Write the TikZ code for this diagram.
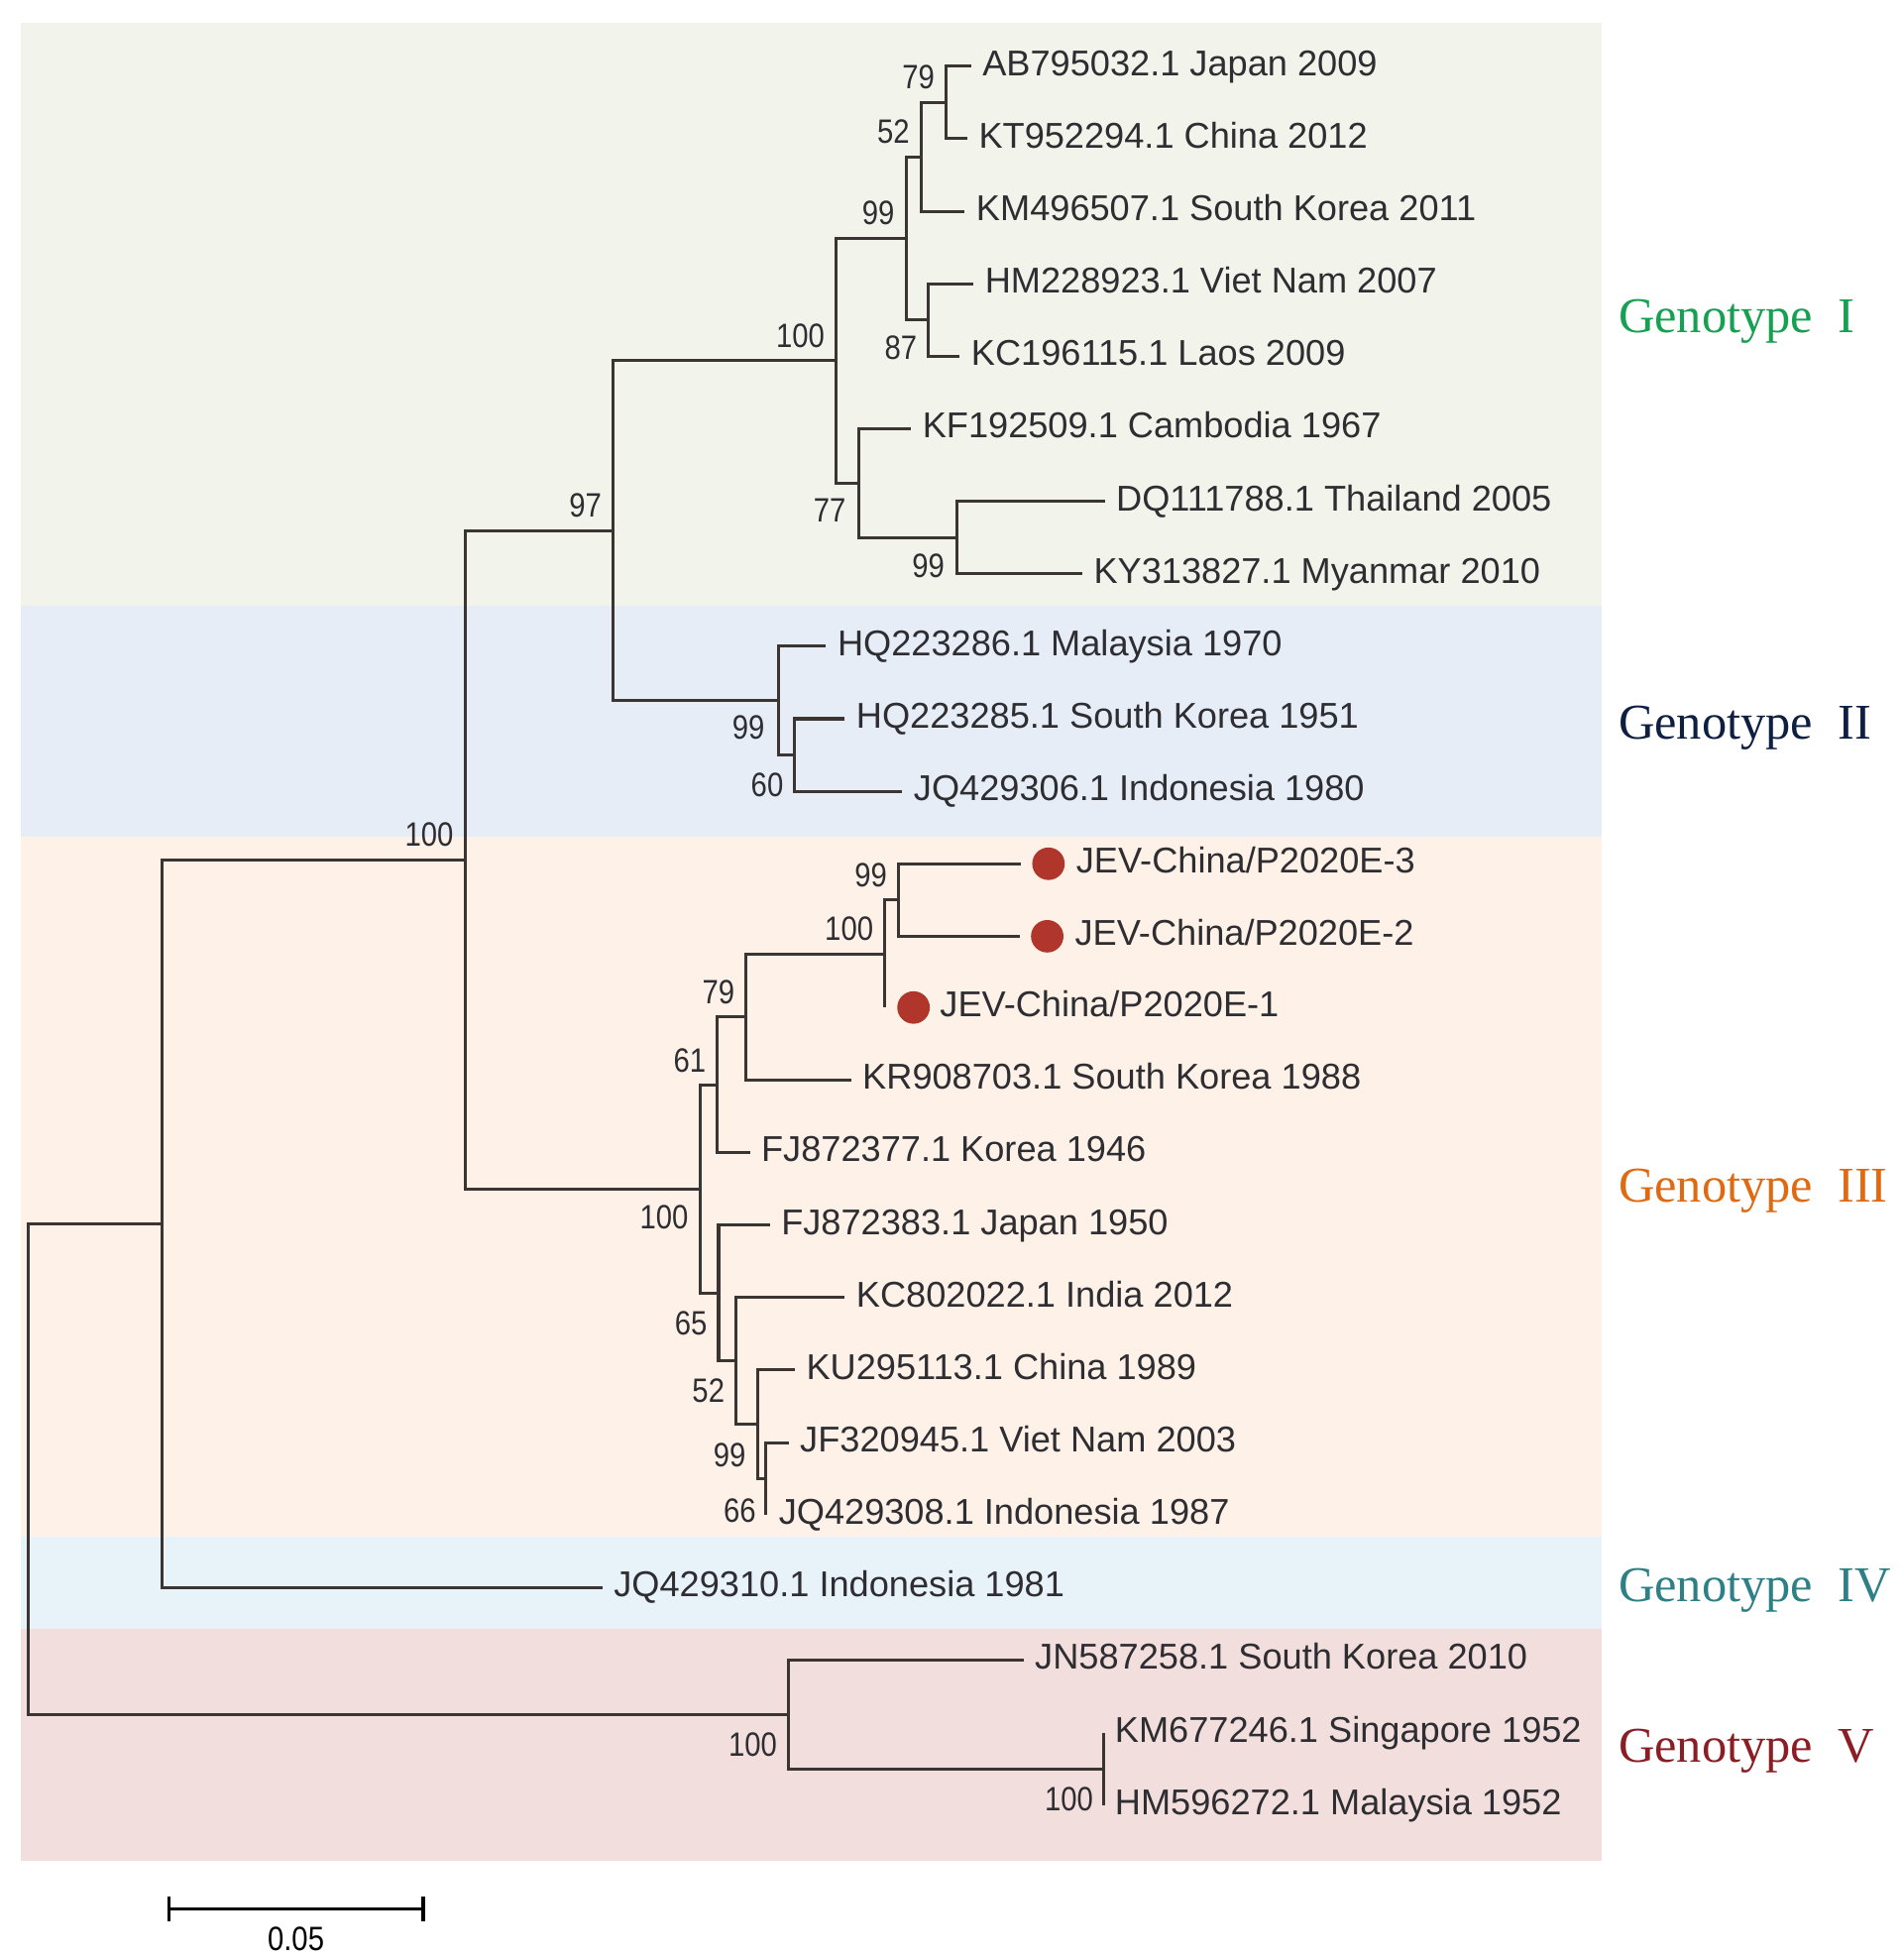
\documentclass[tikz,border=0pt]{standalone}
\usepackage{graphicx}
\usepackage{fontspec}
\setmainfont{Liberation Sans}
\newfontfamily\gserif{Liberation Serif}
\definecolor{linec}{RGB}{58,53,50}
\definecolor{textc}{RGB}{45,45,50}
\definecolor{bandI}{RGB}{242,244,235}
\definecolor{bandII}{RGB}{230,237,246}
\definecolor{bandIII}{RGB}{254,241,232}
\definecolor{bandIV}{RGB}{232,243,249}
\definecolor{bandV}{RGB}{242,222,221}
\definecolor{gI}{RGB}{22,160,82}
\definecolor{gII}{RGB}{14,31,66}
\definecolor{gIII}{RGB}{224,106,18}
\definecolor{gIV}{RGB}{44,128,134}
\definecolor{gV}{RGB}{139,30,36}
\definecolor{dotc}{RGB}{176,54,43}
\newcommand{\nrw}[1]{\scalebox{0.86}[1]{#1}}
\tikzset{
  br/.style={draw=linec, line width=2.4pt, line join=miter},
  leaf/.style={anchor=base west, inner sep=0pt, text=textc, font=\fontsize{28.7}{34}\selectfont},
  supA/.style={anchor=base east, inner sep=0pt, text=textc, font=\fontsize{27}{32}\selectfont},
  supB/.style={anchor=north east, inner sep=0pt, text=textc, font=\fontsize{27}{32}\selectfont},
  geno/.style={anchor=base west, inner sep=0pt, font=\gserif\fontsize{40}{48}\selectfont},
  reddot/.style={circle, fill=dotc, inner sep=0pt, minimum size=26pt},
}
\begin{document}
\begin{tikzpicture}[x=1pt, y=-1pt]
\useasboundingbox (0,0) rectangle (1522,1568);
\fill[white] (0,0) rectangle (1522,1568);
% genotype bands
\fill[bandI]   (17,18)   rectangle (1282,484.5);
\fill[bandII]  (17,484.5) rectangle (1282,669);
\fill[bandIII] (17,669)  rectangle (1282,1229);
\fill[bandIV]  (17,1229) rectangle (1282,1303);
\fill[bandV]   (17,1303) rectangle (1282,1489);

% leaf tips
\coordinate (AB)  at (777,53);
\coordinate (KT)  at (774,111);
\coordinate (KM)  at (772,169);
\coordinate (HM)  at (779,227);
\coordinate (KC)  at (768,285);
\coordinate (KF)  at (729,343);
\coordinate (DQ)  at (884,401);
\coordinate (KY)  at (866,459);
\coordinate (HQa) at (661,517);
\coordinate (HQb) at (676,575);
\coordinate (JQa) at (722,633);
\coordinate (E3)  at (817,691);
\coordinate (E2)  at (816,749);
\coordinate (E1)  at (708,806);
\coordinate (KR)  at (681,864);
\coordinate (FJa) at (600,922);
\coordinate (FJb) at (616,980);
\coordinate (KCb) at (676,1038);
\coordinate (KU)  at (636,1096);
\coordinate (JF)  at (631,1154);
\coordinate (JQb) at (613,1212);
\coordinate (JQc) at (482,1270);
\coordinate (JN)  at (819,1328);
\coordinate (KMb) at (883,1386);
\coordinate (HMb) at (883,1444);

% internal nodes
\coordinate (n79)   at (757,82);
\coordinate (n52)   at (737,125.5);
\coordinate (n87)   at (743,256);
\coordinate (n99a)  at (725,190.75);
\coordinate (n99b)  at (766,430);
\coordinate (n77)   at (687,386.5);
\coordinate (n100a) at (669,288.6);
\coordinate (n60)   at (636,604);
\coordinate (n99c)  at (623,560.5);
\coordinate (n97)   at (490.5,424.6);
\coordinate (n99d)  at (719,720);
\coordinate (n100b) at (708,763);
\coordinate (n79b)  at (597,813.5);
\coordinate (n61)   at (574,867.8);
\coordinate (n66)   at (613,1183);
\coordinate (n99e)  at (606,1139.5);
\coordinate (n52b)  at (589,1088.8);
\coordinate (n65)   at (575,1034.4);
\coordinate (n100c) at (560,951.1);
\coordinate (n100)  at (372,687.9);
\coordinate (nIV)   at (130,978.9);
\coordinate (n100W) at (883,1415);
\coordinate (n100V) at (631,1371.5);
\coordinate (root)  at (22.5,1175.2);

% branches
\draw[br] (n79) |- (AB);   \draw[br] (n79) |- (KT);
\draw[br] (n52) |- (n79);  \draw[br] (n52) |- (KM);
\draw[br] (n87) |- (HM);   \draw[br] (n87) |- (KC);
\draw[br] (n99a) |- (n52); \draw[br] (n99a) |- (n87);
\draw[br] (n99b) |- (DQ);  \draw[br] (n99b) |- (KY);
\draw[br] (n77) |- (KF);   \draw[br] (n77) |- (n99b);
\draw[br] (n100a) |- (n99a); \draw[br] (n100a) |- (n77);
\draw[br] (n60) |- (HQb);  \draw[br] (n60) |- (JQa);
\draw[br] (n99c) |- (HQa); \draw[br] (n99c) |- (n60);
\draw[br] (n97) |- (n100a); \draw[br] (n97) |- (n99c);
\draw[br] (n99d) |- (E3);  \draw[br] (n99d) |- (E2);
\draw[br] (n100b) |- (n99d); \draw[br] (n100b) |- (E1);
\draw[br] (n79b) |- (n100b); \draw[br] (n79b) |- (KR);
\draw[br] (n61) |- (n79b); \draw[br] (n61) |- (FJa);
\draw[br] (n66) |- (JF);   \draw[br] (n66) |- (JQb);
\draw[br] (n99e) |- (KU);  \draw[br] (n99e) |- (n66);
\draw[br] (n52b) |- (KCb); \draw[br] (n52b) |- (n99e);
\draw[br] (n65) |- (FJb);  \draw[br] (n65) |- (n52b);
\draw[br] (n100c) |- (n61); \draw[br] (n100c) |- (n65);
\draw[br] (n100) |- (n97); \draw[br] (n100) |- (n100c);
\draw[br] (nIV) |- (n100); \draw[br] (nIV) |- (JQc);
\draw[br] (n100W) |- (KMb); \draw[br] (n100W) |- (HMb);
\draw[br] (n100V) |- (JN); \draw[br] (n100V) |- (n100W);
\draw[br] (root) |- (nIV); \draw[br] (root) |- (n100V);

% leaf labels
\node[leaf] (lAB)  at ([xshift=9pt,yshift=-7.5pt]AB)  {AB795032.1 Japan 2009};
\node[leaf] (lKT)  at ([xshift=9pt,yshift=-7.5pt]KT)  {KT952294.1 China 2012};
\node[leaf] (lKM)  at ([xshift=9pt,yshift=-7.5pt]KM)  {KM496507.1 South Korea 2011};
\node[leaf] (lHM)  at ([xshift=9pt,yshift=-7.5pt]HM)  {HM228923.1 Viet Nam 2007};
\node[leaf] (lKC)  at ([xshift=9pt,yshift=-7.5pt]KC)  {KC196115.1 Laos 2009};
\node[leaf] (lKF)  at ([xshift=9pt,yshift=-7.5pt]KF)  {KF192509.1 Cambodia 1967};
\node[leaf] (lDQ)  at ([xshift=9pt,yshift=-7.5pt]DQ)  {DQ111788.1 Thailand 2005};
\node[leaf] (lKY)  at ([xshift=9pt,yshift=-7.5pt]KY)  {KY313827.1 Myanmar 2010};
\node[leaf] (lHQa) at ([xshift=9pt,yshift=-7.5pt]HQa) {HQ223286.1 Malaysia 1970};
\node[leaf] (lHQb) at ([xshift=9pt,yshift=-7.5pt]HQb) {HQ223285.1 South Korea 1951};
\node[leaf] (lJQa) at ([xshift=9pt,yshift=-7.5pt]JQa) {JQ429306.1 Indonesia 1980};
\node[reddot] (dE3) at ([xshift=22pt]E3) {};
\node[reddot] (dE2) at ([xshift=22pt]E2) {};
\node[reddot] (dE1) at ([xshift=23pt]E1) {};
\node[leaf] (lE3)  at ([xshift=44pt,yshift=-7.5pt]E3) {JEV-China/P2020E-3};
\node[leaf] (lE2)  at ([xshift=44pt,yshift=-7.5pt]E2) {JEV-China/P2020E-2};
\node[leaf] (lE1)  at ([xshift=44pt,yshift=-7.5pt]E1) {JEV-China/P2020E-1};
\node[leaf] (lKR)  at ([xshift=9pt,yshift=-7.5pt]KR)  {KR908703.1 South Korea 1988};
\node[leaf] (lFJa) at ([xshift=9pt,yshift=-7.5pt]FJa) {FJ872377.1 Korea 1946};
\node[leaf] (lFJb) at ([xshift=9pt,yshift=-7.5pt]FJb) {FJ872383.1 Japan 1950};
\node[leaf] (lKCb) at ([xshift=9pt,yshift=-7.5pt]KCb) {KC802022.1 India 2012};
\node[leaf] (lKU)  at ([xshift=9pt,yshift=-7.5pt]KU)  {KU295113.1 China 1989};
\node[leaf] (lJF)  at ([xshift=9pt,yshift=-7.5pt]JF)  {JF320945.1 Viet Nam 2003};
\node[leaf] (lJQb) at ([xshift=10pt,yshift=-7.5pt]JQb) {JQ429308.1 Indonesia 1987};
\node[leaf] (lJQc) at ([xshift=9pt,yshift=-7.5pt]JQc) {JQ429310.1 Indonesia 1981};
\node[leaf] (lJN)  at ([xshift=9pt,yshift=-7.5pt]JN)  {JN587258.1 South Korea 2010};
\node[leaf] (lKMb) at ([xshift=9pt,yshift=-7.5pt]KMb) {KM677246.1 Singapore 1952};
\node[leaf] (lHMb) at ([xshift=9pt,yshift=-7.5pt]HMb) {HM596272.1 Malaysia 1952};

% bootstrap values above the branch
\node[supA] (s79)   at (748,71)      {\nrw{79}};
\node[supA] (s52)   at (728,114.5)   {\nrw{52}};
\node[supA] (s99a)  at (716,179.75)  {\nrw{99}};
\node[supA] (s100a) at (660,277.6)   {\nrw{100}};
\node[supA] (s97)   at (481.5,413.6) {\nrw{97}};
\node[supA] (s100)  at (363,676.9)   {\nrw{100}};
\node[supA] (s99d)  at (710,709.5)   {\nrw{99}};
\node[supA] (s100b) at (699,752.5)   {\nrw{100}};
\node[supA] (s79b)  at (588,803)     {\nrw{79}};
\node[supA] (s61)   at (565,858)     {\nrw{61}};
% bootstrap values below the branch
\node[supB] (s87)   at (734,268.5)   {\nrw{87}};
\node[supB] (s77)   at (677,398.5)   {\nrw{77}};
\node[supB] (s99b)  at (756,443)     {\nrw{99}};
\node[supB] (s99c)  at (612,572.5)   {\nrw{99}};
\node[supB] (s60)   at (627,618)     {\nrw{60}};
\node[supB] (s100c) at (551,964)     {\nrw{100}};
\node[supB] (s65)   at (566,1048.5)  {\nrw{65}};
\node[supB] (s52b)  at (580,1103)    {\nrw{52}};
\node[supB] (s99e)  at (597,1154)    {\nrw{99}};
\node[supB] (s66)   at (605,1198.5)  {\nrw{66}};
\node[supB] (s100V) at (622,1386)    {\nrw{100}};
\node[supB] (s100W) at (875,1429.5)  {\nrw{100}};

% genotype labels
\node[geno, text=gI]   (GI)   at (1295,265.7) {Genotype\hspace{0.5em}I};
\node[geno, text=gII]  (GII)  at (1295,591)   {Genotype\hspace{0.5em}II};
\node[geno, text=gIII] (GIII) at (1295,962)   {Genotype\hspace{0.5em}III};
\node[geno, text=gIV]  (GIV)  at (1295,1281)  {Genotype\hspace{0.5em}IV};
\node[geno, text=gV]   (GV)   at (1295,1410)  {Genotype\hspace{0.5em}V};

% scale bar
\coordinate (sbL) at (135,1527);
\coordinate (sbR) at (338.6,1527);
\draw[black, line width=2.6pt] (sbL) -- (sbR);
\draw[black, line width=2.6pt] ([yshift=10pt]sbL) -- ([yshift=-10pt]sbL);
\draw[black, line width=2.6pt] ([yshift=10pt]sbR) -- ([yshift=-10pt]sbR);
\node[anchor=north, inner sep=0pt, text=black, font=\fontsize{27}{32}\selectfont] (sbt) at (236.8,1541) {\nrw{0.05}};
\end{tikzpicture}
\end{document}
